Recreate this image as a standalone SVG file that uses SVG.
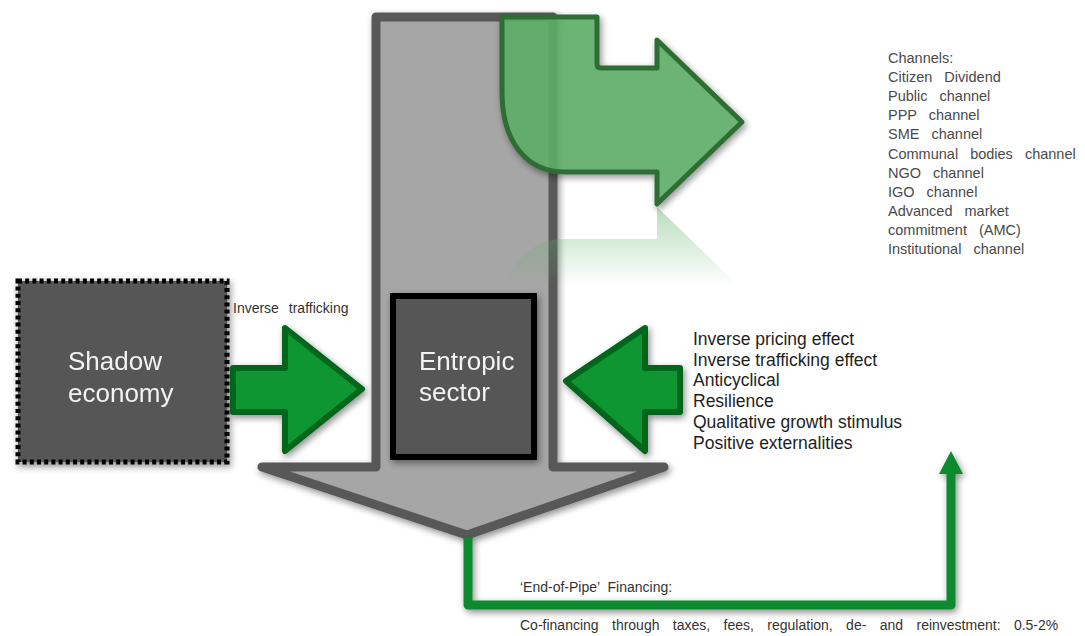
<svg xmlns="http://www.w3.org/2000/svg" width="1085" height="636" viewBox="0 0 1085 636">
<defs>
<filter id="sh" x="-20%" y="-20%" width="140%" height="140%">
<feGaussianBlur in="SourceAlpha" stdDeviation="3.5"/>
<feOffset dx="2" dy="3" result="b"/>
<feComponentTransfer><feFuncA type="linear" slope="0.45"/></feComponentTransfer>
<feMerge><feMergeNode/><feMergeNode in="SourceGraphic"/></feMerge>
</filter>
<linearGradient id="refl" gradientUnits="userSpaceOnUse" x1="0" y1="205" x2="0" y2="125">
<stop offset="0" stop-color="#5fb267" stop-opacity="0.45"/>
<stop offset="1" stop-color="#5fb267" stop-opacity="0"/>
</linearGradient>
<marker id="ah" markerUnits="userSpaceOnUse" markerWidth="26" markerHeight="26" refX="0" refY="13" orient="auto" viewBox="0 0 26 26">
<path d="M0,1 L23,13 L0,25 Z" fill="#0d8a2e"/>
</marker>
<style>
.grey{fill:#a6a6a6;stroke:#595959;stroke-width:9;stroke-linejoin:round}
.box{fill:#575757}
.gr{fill:#0b9630;stroke:#00661a;stroke-width:6;stroke-linejoin:round}
.big{font-family:"Liberation Sans",Arial,sans-serif;font-size:26px;fill:#f2f2f2}
.ch{font-family:"Liberation Sans",Arial,sans-serif;font-size:14.5px;fill:#4a4a4a;word-spacing:8px}
.ef{font-family:"Liberation Sans",Arial,sans-serif;font-size:17.5px;fill:#1e1e1e}
.sm{font-family:"Liberation Sans",Arial,sans-serif;font-size:14px;fill:#333}
</style>
</defs>
<rect width="1085" height="636" fill="#ffffff"/>

<g id="main-arrow" filter="url(#sh)">
<path class="grey" d="M376,17 L553,17 L553,467 L664,467 L467,535 L262,467 L376,467 Z"/>
</g>

<g id="channel-arrow">
<path d="M502,17 L597,17 L597,64 Q597,68 601,68 L657,68 L657,40 L742,122 L657,204 L657,172 L565,172 C525,172 502,140 502,92 Z" fill="#5fb267" fill-opacity="0.85" stroke="#2f6e36" stroke-width="5" stroke-linejoin="round" filter="url(#sh)"/>
<path transform="translate(0,411) scale(1,-1)" d="M502,17 L597,17 L597,68 L657,68 L657,40 L742,122 L657,204 L657,172 L565,172 C525,172 502,140 502,92 Z" fill="url(#refl)"/>
</g>

<g id="shadow-economy" filter="url(#sh)">
<rect class="box" x="18" y="281" width="209" height="181" stroke="#000" stroke-width="5" stroke-dasharray="4 3.2"/>
<text class="big" x="68" y="370">Shadow</text>
<text class="big" x="68" y="402">economy</text>
</g>

<g id="entropic-sector" filter="url(#sh)">
<rect class="box" x="393" y="296" width="141" height="161" stroke="#000" stroke-width="6"/>
<text class="big" x="419" y="370">Entropic</text>
<text class="big" x="419" y="401">sector</text>
</g>

<g id="inverse-trafficking-arrow" filter="url(#sh)">
<path class="gr" d="M233,368 L285,368 L285,328 L362,389 L285,451 L285,412 L233,412 Z"/>
</g>
<text class="sm" x="233" y="313" font-size="15" word-spacing="6">Inverse trafficking</text>

<g id="effects-arrow" filter="url(#sh)">
<path class="gr" d="M680,368 L645,368 L645,328 L566,381 L645,451 L645,412 L680,412 Z"/>
</g>

<g id="effects-text">
<text class="ef" x="693" y="345">Inverse pricing effect</text>
<text class="ef" x="693" y="366">Inverse trafficking effect</text>
<text class="ef" x="693" y="386">Anticyclical</text>
<text class="ef" x="693" y="407">Resilience</text>
<text class="ef" x="693" y="428">Qualitative growth stimulus</text>
<text class="ef" x="693" y="449">Positive externalities</text>
</g>

<g id="channels-text">
<text class="ch" x="888" y="63">Channels:</text>
<text class="ch" x="888" y="82">Citizen Dividend</text>
<text class="ch" x="888" y="101">Public channel</text>
<text class="ch" x="888" y="120">PPP channel</text>
<text class="ch" x="888" y="139">SME channel</text>
<text class="ch" x="888" y="159">Communal bodies channel</text>
<text class="ch" x="888" y="178">NGO channel</text>
<text class="ch" x="888" y="197">IGO channel</text>
<text class="ch" x="888" y="216">Advanced market</text>
<text class="ch" x="888" y="235">commitment (AMC)</text>
<text class="ch" x="888" y="254">Institutional channel</text>
</g>

<g id="connectors" filter="url(#sh)">
<path d="M468,538 L468,605 L951,605 L951,474" fill="none" stroke="#0d8a2e" stroke-width="9" stroke-linejoin="round" marker-end="url(#ah)"/>
</g>

<g id="financing-text">
<text class="sm" x="520" y="592" word-spacing="4">‘End-of-Pipe’ Financing:</text>
<text class="sm" x="520" y="630" word-spacing="9.5">Co-financing through taxes, fees, regulation, de- and reinvestment: 0.5-2%</text>
</g>
</svg>
